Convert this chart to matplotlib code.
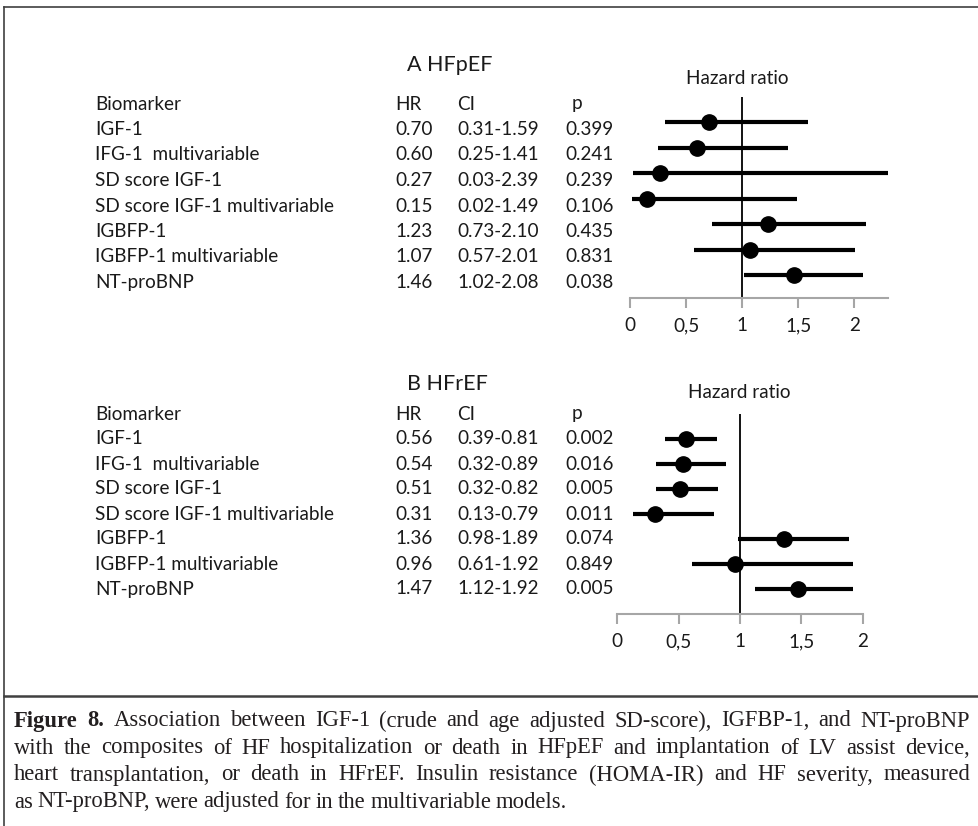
import matplotlib
matplotlib.use("Agg")
import matplotlib.pyplot as plt
from matplotlib.lines import Line2D

# table data
biomarkers = ["IGF-1", "IFG-1  multivariable", "SD score IGF-1",
              "SD score IGF-1 multivariable", "IGBFP-1",
              "IGBFP-1 multivariable", "NT-proBNP"]

hr_a = [0.70, 0.60, 0.27, 0.15, 1.23, 1.07, 1.46]
lo_a = [0.31, 0.25, 0.03, 0.02, 0.73, 0.57, 1.02]
hi_a = [1.59, 1.41, 2.39, 1.49, 2.10, 2.01, 2.08]
p_a = ["0.399", "0.241", "0.239", "0.106", "0.435", "0.831", "0.038"]

hr_b = [0.56, 0.54, 0.51, 0.31, 1.36, 0.96, 1.47]
lo_b = [0.39, 0.32, 0.32, 0.13, 0.98, 0.61, 1.12]
hi_b = [0.81, 0.89, 0.82, 0.79, 1.89, 1.92, 1.92]
p_b = ["0.002", "0.016", "0.005", "0.011", "0.074", "0.849", "0.005"]

xticks = [0, 0.5, 1, 1.5, 2]
xtick_labels = ["0", "0,5", "1", "1,5", "2"]

caption = [
    "Figure 8. Association between IGF-1 (crude and age adjusted SD-score), IGFBP-1, and NT-proBNP",
    "with the composites of HF hospitalization or death in HFpEF and implantation of LV assist device,",
    "heart transplantation, or death in HFrEF. Insulin resistance (HOMA-IR) and HF severity, measured",
    "as NT-proBNP, were adjusted for in the multivariable models.",
]

W, H = 979, 826
fig = plt.figure(figsize=(W / 100, H / 100), dpi=100)
plt.rcParams["font.family"] = ["Lato", "DejaVu Sans"]
TXT = "#1a1a1a"
FS = 13.6


def fx(px):
    return px / W


def fy(py):
    return 1 - py / H


def put(px, py, s, **kw):
    kw.setdefault("color", TXT)
    kw.setdefault("va", "center")
    kw.setdefault("fontsize", FS)
    return fig.text(fx(px), fy(py), s, **kw)


def panel(title, hr, lo, hi, pvals, title_y, head_y, row_h,
          ax_left, ax_right, ax_top, ax_bottom, xmax, hz_x, hz_y):
    # text table on the left
    put(407, title_y, title, fontsize=15.5)
    put(95, head_y, "Biomarker")
    put(395, head_y, "HR")
    put(457, head_y, "CI")
    put(572, head_y, "p")
    for i, name in enumerate(biomarkers):
        y = head_y + (i + 1) * row_h
        put(95, y, name)
        put(395, y, f"{hr[i]:.2f}")
        put(457, y, f"{lo[i]:.2f}-{hi[i]:.2f}")
        put(565, y, pvals[i])

    # forest plot
    ax = fig.add_axes([fx(ax_left), fy(ax_bottom),
                       (ax_right - ax_left) / W, (ax_bottom - ax_top) / H])
    rows = list(range(1, len(hr) + 1))
    ax.hlines(rows, lo, hi, color="black", lw=3)
    ax.plot(hr, rows, "o", color="black", ms=11)
    ax.axvline(1, color="black", lw=1.3)
    ax.set_xlim(0, xmax)
    ax.set_ylim((ax_bottom - ax_top) / row_h, 0)
    for s in ["top", "left", "right"]:
        ax.spines[s].set_visible(False)
    ax.spines["bottom"].set_color("#a6a6a6")
    ax.spines["bottom"].set_linewidth(1.5)
    ax.set_yticks([])
    ax.set_xticks(xticks)
    ax.set_xticklabels(xtick_labels)
    ax.tick_params(axis="x", colors="#a6a6a6", length=7, width=1.5,
                   labelcolor=TXT, labelsize=FS, pad=7)
    ax.patch.set_alpha(0)
    put(hz_x, hz_y, "Hazard ratio", ha="center")


panel("A HFpEF", hr_a, lo_a, hi_a, p_a, 65, 104, 25.5,
      630, 888, 96.5, 298, 2.3, 737, 79)
panel("B HFrEF", hr_b, lo_b, hi_b, p_b, 384, 414, 25.0,
      617, 863, 414.2, 614, 2.0, 739, 393)

# frame lines
for xs, ys, lw in [([4, 4], [7, 826], 1.2), ([4, 979], [7, 7], 1.2),
                   ([4, 979], [696, 696], 1.8)]:
    fig.add_artist(Line2D([fx(x) for x in xs], [fy(y) for y in ys],
                          transform=fig.transFigure, color="#404040", lw=lw))

# caption, justified except for the last line
renderer = fig.canvas.get_renderer()
x0, x1 = 14, 970
for li, line in enumerate(caption):
    y = 721 + li * 27
    words = line.split()
    texts = []
    for wi, w in enumerate(words):
        bold = li == 0 and wi < 2
        t = put(0, y, w, family="Liberation Serif", fontsize=16.3,
                weight="bold" if bold else "normal", color="#231f20")
        texts.append(t)
    widths = [t.get_window_extent(renderer).width for t in texts]
    if li < len(caption) - 1:
        gap = (x1 - x0 - sum(widths)) / (len(words) - 1)
    else:
        gap = 4.8
    x = x0
    for t, w in zip(texts, widths):
        t.set_x(fx(x))
        x += w + gap

fig.savefig("out.png", dpi=100)
